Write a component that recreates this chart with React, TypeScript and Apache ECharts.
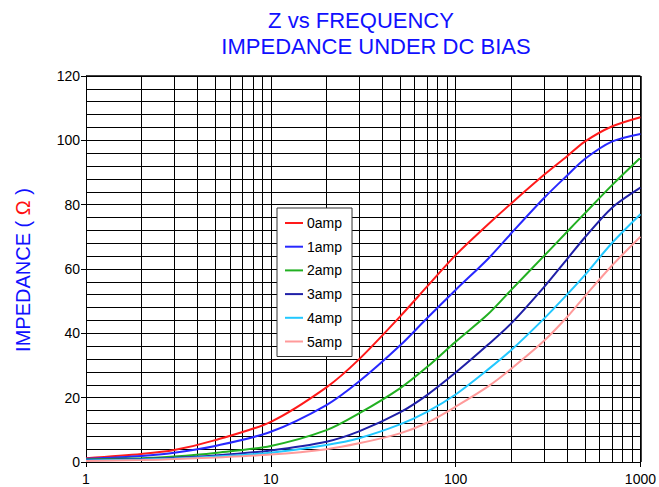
import React, { useEffect, useRef } from "react";
import * as echarts from "echarts";

const freq = [1, 2, 3, 5, 10, 20, 30, 50, 70, 100, 150, 200, 300, 400, 500, 700, 1000];
const amp0 = [1.2, 2.5, 3.7, 6.8, 12.5, 23.2, 31.9, 45.2, 54.5, 64.3, 73.9, 80.4, 89.2, 95, 99.6, 104.3, 107.2];
const amp1 = [1.0, 1.9, 2.9, 5.0, 9.4, 17.7, 25, 36.2, 44.7, 53.5, 63.2, 71.1, 82, 89, 94.2, 99.6, 102];
const amp2 = [0.8, 1.2, 1.7, 2.8, 5.0, 9.9, 15.1, 22.9, 29.5, 37.4, 46.0, 53.5, 64, 71.5, 77.3, 86, 94.6];
const amp3 = [0.6, 0.9, 1.3, 2.0, 3.6, 6.3, 9.5, 15.4, 20.8, 27.8, 36.5, 43.1, 54.3, 63, 69.8, 79, 85.3];
const amp4 = [0.5, 0.8, 1.1, 1.7, 2.9, 5.3, 7.4, 11.7, 15.6, 21.0, 28.8, 34.8, 44.5, 52, 58.1, 68, 77];
const amp5 = [0.3, 0.6, 0.9, 1.4, 2.3, 4.0, 5.8, 8.9, 12.2, 17.2, 23.5, 29, 37.6, 45, 51.5, 61, 70];

const seriesNames = ["0amp", "1amp", "2amp", "3amp", "4amp", "5amp"];
const seriesValues = [amp0, amp1, amp2, amp3, amp4, amp5];
const seriesColors = ["#ff1a1a", "#2828ff", "#22b022", "#2020a8", "#22c8ff", "#ff9a9a"];

const minorFreqs = [2, 3, 4, 5, 6, 7, 8, 9, 20, 30, 40, 50, 60, 70, 80, 90, 200, 300, 400, 500, 600, 700, 800, 900];

const titleLine1 = "Z vs FREQUENCY";
const titleLine2 = "IMPEDANCE UNDER DC BIAS";

export default function App() {
  const ref = useRef<HTMLDivElement>(null);
  useEffect(() => {
    if (!ref.current) return;
    const chart = echarts.init(ref.current, undefined, { renderer: "svg" });
    const font = "Arial, 'Liberation Sans', sans-serif";
    const lineSeries = seriesNames.map((name, i) => ({
      name,
      type: "line",
      data: freq.map((f, j) => [f, seriesValues[i][j]]),
      smooth: 0.3,
      showSymbol: false,
      symbol: "none",
      lineStyle: { color: seriesColors[i], width: 2 },
      itemStyle: { color: seriesColors[i] },
      z: 5,
    }));
    chart.setOption({
      animation: false,
      backgroundColor: "#ffffff",
      textStyle: { fontFamily: font },
      grid: { left: 86, right: 18, top: 76, bottom: 25, containLabel: false },
      graphic: [
        {
          type: "text",
          x: 361,
          y: 20,
          style: {
            text: titleLine1,
            fill: "#1010ff",
            font: `22px ${font}`,
            align: "center",
            verticalAlign: "middle",
          },
        },
        {
          type: "text",
          x: 376,
          y: 46,
          style: {
            text: titleLine2,
            fill: "#1010ff",
            font: `22px ${font}`,
            align: "center",
            verticalAlign: "middle",
          },
        },
        {
          type: "text",
          x: 23,
          y: 270,
          rotation: Math.PI / 2,
          style: {
            text: "{b|IMPEDANCE ( }{r|Ω}{b| )}",
            align: "center",
            verticalAlign: "middle",
            rich: {
              b: { fill: "#1010ff", fontSize: 20, fontFamily: font },
              r: { fill: "#ff1010", fontSize: 20, fontFamily: font },
            },
          },
        },
      ],
      legend: {
        data: seriesNames,
        orient: "vertical",
        left: 277,
        top: 208,
        backgroundColor: "#ffffff",
        borderColor: "#333333",
        borderWidth: 1,
        padding: [8, 10, 8, 8],
        itemGap: 9.7,
        itemWidth: 18,
        itemHeight: 2,
        icon: "rect",
        textStyle: { fontSize: 14, color: "#000", fontFamily: font, padding: [0, 0, 0, -1] },
        z: 10,
      },
      xAxis: {
        type: "log",
        logBase: 10,
        min: 1,
        max: 1000,
        axisLine: { show: true, lineStyle: { color: "#000", width: 1 } },
        axisTick: { show: true, length: 5, lineStyle: { color: "#000" } },
        axisLabel: {
          color: "#000",
          fontSize: 14,
          margin: 10,
          fontFamily: font,
          formatter: (v: number) => String(Math.round(v)),
        },
        splitLine: { show: true, lineStyle: { color: "#000", width: 1 } },
        minorTick: { show: false },
      },
      yAxis: {
        type: "value",
        min: 0,
        max: 120,
        interval: 20,
        axisLine: { show: true, lineStyle: { color: "#000", width: 1 } },
        axisTick: { show: true, length: 5, lineStyle: { color: "#000" } },
        axisLabel: { color: "#000", fontSize: 14, margin: 6, fontFamily: font },
        splitLine: { show: true, lineStyle: { color: "#000", width: 1 } },
        minorTick: { show: false, splitNumber: 5 },
        minorSplitLine: { show: true, lineStyle: { color: "#000", width: 1 } },
      },
      series: [
        {
          name: "grid",
          type: "line",
          data: [],
          silent: true,
          z: 1,
          markLine: {
            silent: true,
            symbol: ["none", "none"],
            label: { show: false },
            lineStyle: { color: "#000", width: 1, type: "solid" },
            emphasis: { disabled: true },
            data: minorFreqs.map((f) => ({ xAxis: f })),
          },
        },
        {
          name: "frame",
          type: "line",
          data: [],
          silent: true,
          z: 1,
          markLine: {
            silent: true,
            symbol: ["none", "none"],
            label: { show: false },
            lineStyle: { color: "#000", width: 1.5, type: "solid" },
            emphasis: { disabled: true },
            data: [{ xAxis: 1000 }, { yAxis: 120 }],
          },
        },
        ...lineSeries,
      ],
    });
    return () => chart.dispose();
  }, []);
  return (
    <div
      ref={ref}
      style={{ position: "fixed", left: 0, top: 0, width: 659, height: 487, background: "#fff" }}
    />
  );
}
